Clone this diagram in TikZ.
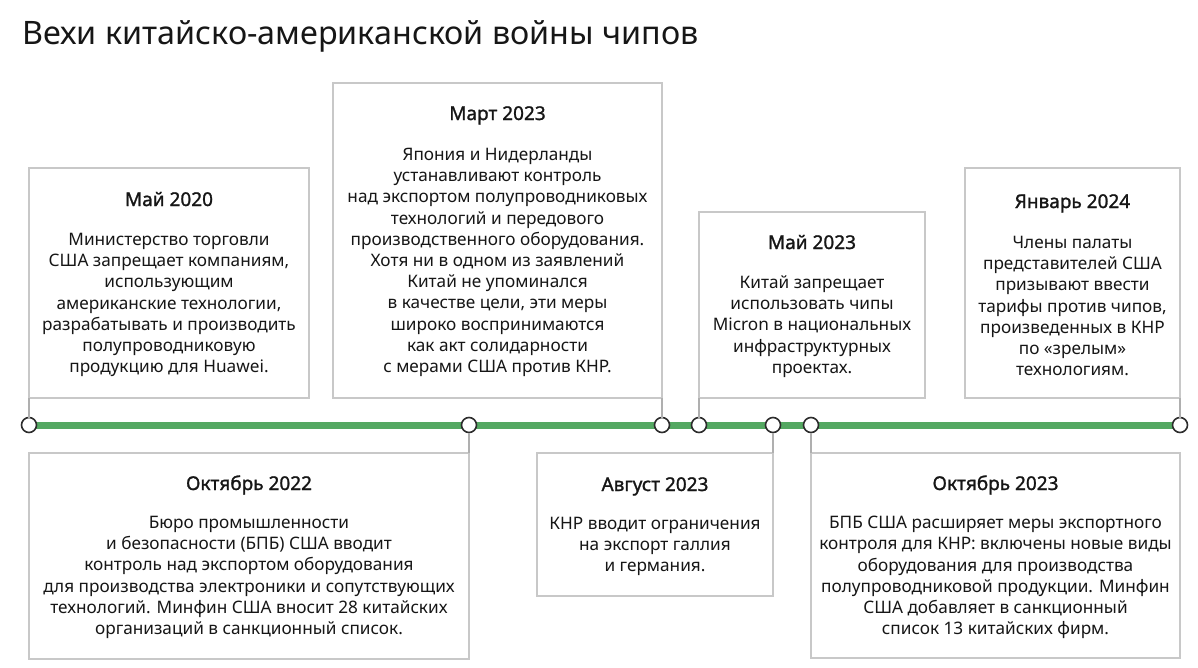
\documentclass[tikz,border=0pt]{standalone}
\usepackage{fontspec}
\setmainfont{Noto Sans}
\newfontfamily\headfont{Noto Sans}[FakeBold=1.3]
\definecolor{tlgreen}{RGB}{84,168,98}
\definecolor{boxgray}{RGB}{200,200,200}
\definecolor{conngray}{RGB}{175,175,175}
\definecolor{dotgray}{RGB}{45,45,45}
\definecolor{txt}{RGB}{22,22,22}
\tikzset{
  evbox/.style={draw=boxgray, line width=1.3pt, inner sep=0pt, outer sep=0pt, anchor=north west, fill=white},
  head/.style={anchor=base, text=txt, font=\headfont\fontsize{19}{20}\selectfont, inner sep=0pt},
  body/.style={anchor=center, align=center, text=txt, font=\fontsize{17.2}{21.2}\selectfont, inner sep=0pt},
  conn/.style={draw=conngray, line width=1.2pt},
  dot/.style={circle, draw=dotgray, fill=white, line width=1.6pt, minimum size=15pt, inner sep=0pt, outer sep=0pt},
  tline/.style={draw=tlgreen, line width=7pt}
}
\begin{document}
\begin{tikzpicture}[x=1pt,y=-1pt]
\useasboundingbox[fill=white] (0,0) rectangle (1198,667);
% title
\node[anchor=base west, inner sep=0pt, text=txt, font=\fontsize{32.3}{40}\selectfont] (title) at (22,44) {Вехи китайско-американской войны чипов};
% boxes
\node[evbox, minimum width=280pt, minimum height=230pt] (b1) at (29,168) {};
\node[evbox, minimum width=329pt, minimum height=315pt] (b2) at (333,83) {};
\node[evbox, minimum width=226pt, minimum height=186pt] (b3) at (699,212) {};
\node[evbox, minimum width=215pt, minimum height=230pt] (b4) at (965,168) {};
\node[evbox, minimum width=440pt, minimum height=206pt] (b5) at (29,453) {};
\node[evbox, minimum width=236pt, minimum height=143pt] (b6) at (537,453) {};
\node[evbox, minimum width=369pt, minimum height=205pt] (b7) at (811,453) {};
% timeline
\coordinate (p1) at (29,425);
\coordinate (p7) at (1180,425);
\draw[tline] (p1) -- (p7);
\node[dot] (c1) at (29,425) {};
\node[dot] (c2) at (469,425) {};
\node[dot] (c3) at (662,425) {};
\node[dot] (c4) at (699,425) {};
\node[dot] (c5) at (773,425) {};
\node[dot] (c6) at (811,425) {};
\node[dot] (c7) at (1180,425) {};
% connectors
\draw[conn] (b1.south west) -- (c1.north);
\draw[conn] (b2.south east) -- (c3.north);
\draw[conn] (b3.south west) -- (c4.north);
\draw[conn] (b4.south east) -- (c7.north);
\draw[conn] (b5.north east) -- (c2.south);
\draw[conn] (b6.north east) -- (c5.south);
\draw[conn] (b7.north west) -- (c6.south);
% texts
\node[head] (h1) at (169,206) {Май 2020};
\node[body] (t1) at (169,305) {Министерство торговли\\США запрещает компаниям,\\использующим\\американские технологии,\\разрабатывать и производить\\полупроводниковую\\продукцию для Huawei.};
\node[head] (h2) at (497.5,120) {Март 2023};
\node[body] (t2) at (497.5,262.5) {Япония и Нидерланды\\устанавливают контроль\\над экспортом полупроводниковых\\технологий и передового\\производственного оборудования.\\Хотя ни в одном из заявлений\\Китай не упоминался\\в качестве цели, эти меры\\широко воспринимаются\\как акт солидарности\\с мерами США против КНР.};
\node[head] (h3) at (812,249) {Май 2023};
\node[body] (t3) at (812,326.5) {Китай запрещает\\использовать чипы\\Micron в национальных\\инфраструктурных\\проектах.};
\node[head] (h4) at (1072.5,208) {Январь 2024};
\node[body] (t4) at (1072.5,306) {Члены палаты\\представителей США\\призывают ввести\\тарифы против чипов,\\произведенных в КНР\\по «зрелым»\\технологиям.};
\node[head] (h5) at (249,490) {Октябрь 2022};
\node[body] (t5) at (249,577.5) {Бюро промышленности\\и безопасности (БПБ) США вводит\\контроль над экспортом оборудования\\для производства электроники и сопутствующих\\технологий. Минфин США вносит 28 китайских\\организаций в санкционный список.};
\node[head] (h6) at (655,491) {Август 2023};
\node[body] (t6) at (655,546.5) {КНР вводит ограничения\\на экспорт галлия\\и германия.};
\node[head] (h7) at (995.5,490) {Октябрь 2023};
\node[body] (t7) at (995.5,577.5) {БПБ США расширяет меры экспортного\\контроля для КНР: включены новые виды\\оборудования для производства\\полупроводниковой продукции. Минфин\\США добавляет в санкционный\\список 13 китайских фирм.};
\end{tikzpicture}
\end{document}
